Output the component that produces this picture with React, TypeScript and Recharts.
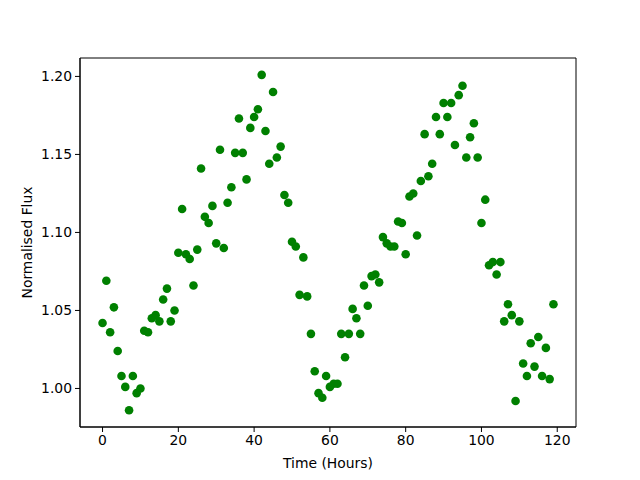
import { ScatterChart, Scatter, XAxis, YAxis, ReferenceArea } from 'recharts';

const hours = Array.from({ length: 120 }, (_, i) => i);

const flux = [
  1.042, 1.069, 1.036, 1.052, 1.024, 1.008, 1.001, 0.986, 1.008, 0.997,
  1.000, 1.037, 1.036, 1.045, 1.047, 1.043, 1.057, 1.064, 1.043, 1.050,
  1.087, 1.115, 1.086, 1.083, 1.066, 1.089, 1.141, 1.110, 1.106, 1.117,
  1.093, 1.153, 1.090, 1.119, 1.129, 1.151, 1.173, 1.151, 1.134, 1.167,
  1.174, 1.179, 1.201, 1.165, 1.144, 1.190, 1.148, 1.155, 1.124, 1.119,
  1.094, 1.091, 1.060, 1.084, 1.059, 1.035, 1.011, 0.997, 0.994, 1.008,
  1.001, 1.003, 1.003, 1.035, 1.020, 1.035, 1.051, 1.045, 1.035, 1.066,
  1.053, 1.072, 1.073, 1.068, 1.097, 1.093, 1.091, 1.091, 1.107, 1.106,
  1.086, 1.123, 1.125, 1.098, 1.133, 1.163, 1.136, 1.144, 1.174, 1.163,
  1.183, 1.174, 1.183, 1.156, 1.188, 1.194, 1.148, 1.161, 1.170, 1.148,
  1.106, 1.121, 1.079, 1.081, 1.073, 1.081, 1.043, 1.054, 1.047, 0.992,
  1.043, 1.016, 1.008, 1.029, 1.014, 1.033, 1.008, 1.026, 1.006, 1.054,
];

const xTicks = [0, 20, 40, 60, 80, 100, 120];
const yTicks = [1.0, 1.05, 1.1, 1.15, 1.2];
const xDomain = [-5.95, 124.95];
const yDomain = [0.9753, 1.2118];

const data = hours.map((h, i) => ({ time: h, flux: flux[i] }));

const font = { fontFamily: 'DejaVu Sans', fontSize: 13.9, fill: '#000' };

const Dot = (props: any) => <circle cx={props.cx} cy={props.cy} r={4.3} fill="#008000" />;

const App = () => {
  return (
    <div style={{ position: 'fixed', left: 0, top: 0, width: 640, height: 480, background: '#fff' }}>
      <ScatterChart width={640} height={480} margin={{ top: 58, right: 64, bottom: 0, left: 0 }}>
        <XAxis
          type="number"
          dataKey="time"
          domain={xDomain}
          ticks={xTicks}
          allowDataOverflow
          height={53}
          stroke="#000"
          tickSize={5}
          tickMargin={3}
          tick={font}
          tickLine={{ stroke: '#000' }}
          label={{ value: 'Time (Hours)', position: 'insideBottom', offset: 12, style: font }}
        />
        <YAxis
          type="number"
          dataKey="flux"
          domain={yDomain}
          ticks={yTicks}
          allowDataOverflow
          width={80}
          stroke="#000"
          tickSize={5}
          tickMargin={3}
          tick={font}
          tickLine={{ stroke: '#000' }}
          tickFormatter={(v: number) => v.toFixed(2)}
          label={{ value: 'Normalised Flux', angle: -90, position: 'insideLeft', offset: 27, style: { ...font, textAnchor: 'middle' } }}
        />
        {/* frame: top and right spines */}
        <ReferenceArea
          x1={xDomain[0]}
          x2={xDomain[1]}
          y1={yDomain[0]}
          y2={yDomain[1]}
          fill="none"
          stroke="#000"
          strokeWidth={1}
          ifOverflow="visible"
        />
        <Scatter data={data} fill="#008000" shape={Dot} isAnimationActive={false} />
      </ScatterChart>
    </div>
  );
};

export default App;
